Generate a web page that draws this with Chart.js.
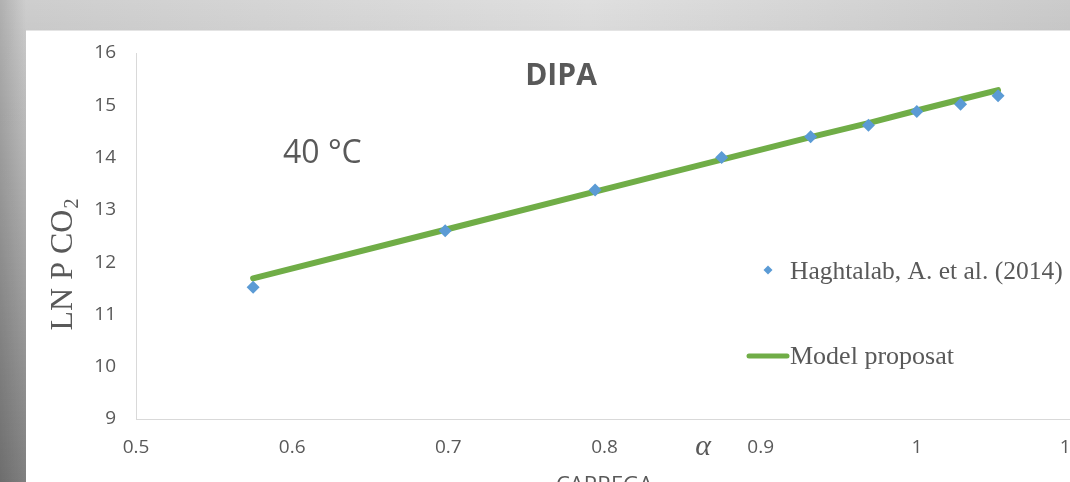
<!DOCTYPE html>
<html>
<head>
<meta charset="utf-8">
<title>DIPA 40 °C</title>
<script src="https://cdn.jsdelivr.net/npm/chart.js@4"></script>
<style>
  html, body { margin: 0; padding: 0; }
  body {
    width: 1070px; height: 482px; overflow: hidden; position: relative;
    background:
      linear-gradient(to right, rgba(0,0,0,0.14) 0px, rgba(0,0,0,0) 26px),
      linear-gradient(to bottom, rgba(0,0,0,0) 0%, rgba(0,0,0,0.38) 100%),
      linear-gradient(to right, #cdcdcd 0%, #dfdfdf 55%, #cbcbcb 100%);
  }
  #sheet {
    position: absolute; left: 26px; top: 30px; width: 1070px; height: 480px;
    background: #ffffff; border-top: 1px solid #e4e4e4; box-sizing: border-box;
  }
  #chart { position: absolute; left: 0; top: -1px; }
</style>
</head>
<body>
<div id="sheet"><canvas id="chart" width="1070" height="480"></canvas></div>
<script>
// Loading (alpha) and ln of CO2 partial pressure, DIPA at 40 °C
const loading = [0.575, 0.698, 0.794, 0.875, 0.932, 0.969, 1.000, 1.028, 1.052];
const lnPco2Measured = [11.52, 12.60, 13.38, 14.00, 14.40, 14.62, 14.88, 15.02, 15.18];
const lnPco2Model = [11.69, 12.62, 13.35, 13.96, 14.39, 14.66, 14.90, 15.11, 15.29];
const xTicks = [0.5, 0.6, 0.7, 0.8, 0.9, 1.0, 1.1];
const yTicks = [9, 10, 11, 12, 13, 14, 15, 16];
const seriesNames = ['Haghtalab, A. et al. (2014)', 'Model proposat'];

const GRAY = '#595959';
const BLUE = '#5b9bd5';
const GREEN = '#70ad47';

const toPoints = (xs, ys) => xs.map((x, i) => ({ x, y: ys[i] }));

// Title, annotations, axis titles and legend drawn onto the canvas
const decorations = {
  id: 'decorations',
  afterDraw(chart) {
    const ctx = chart.ctx;
    const area = chart.chartArea;
    ctx.save();
    ctx.fillStyle = GRAY;
    ctx.textBaseline = 'alphabetic';

    // title
    ctx.font = 'bold 30px "Open Sans"';
    ctx.textAlign = 'center';
    ctx.fillText('DIPA', 535, 55);

    // temperature note
    ctx.font = '32px "Open Sans"';
    ctx.textAlign = 'left';
    ctx.fillText('40 °C', 257, 133);

    // alpha symbol beside the x ticks
    ctx.font = 'italic 30px "Liberation Serif"';
    ctx.textAlign = 'center';
    ctx.fillText('α', 677, 425);

    // x axis title
    ctx.font = '22px "Open Sans"';
    ctx.fillText('CARREGA', (area.left + area.right) / 2, 462);

    // y axis title with subscript
    ctx.save();
    ctx.translate(46, 235);
    ctx.rotate(-Math.PI / 2);
    ctx.font = '32px "Liberation Serif"';
    const main = 'LN P CO';
    const mainW = ctx.measureText(main).width;
    ctx.font = '20px "Liberation Serif"';
    const subW = ctx.measureText('2').width;
    const start = -(mainW + subW) / 2;
    ctx.textAlign = 'left';
    ctx.font = '32px "Liberation Serif"';
    ctx.fillText(main, start, 0);
    ctx.font = '20px "Liberation Serif"';
    ctx.fillText('2', start + mainW + 1, 6);
    ctx.restore();

    // legend
    const ds = chart.data.datasets;
    ctx.font = '25.5px "Liberation Serif"';
    ctx.textAlign = 'left';
    // marker entry
    ctx.fillStyle = ds[0].backgroundColor;
    ctx.beginPath();
    ctx.moveTo(742, 235.5);
    ctx.lineTo(746.5, 240);
    ctx.lineTo(742, 244.5);
    ctx.lineTo(737.5, 240);
    ctx.closePath();
    ctx.fill();
    ctx.fillStyle = GRAY;
    ctx.fillText(ds[0].label, 764, 249);
    // line entry
    ctx.strokeStyle = ds[1].borderColor;
    ctx.lineWidth = 5;
    ctx.lineCap = 'round';
    ctx.beginPath();
    ctx.moveTo(723, 326);
    ctx.lineTo(761, 326);
    ctx.stroke();
    ctx.font = '26px "Liberation Serif"';
    ctx.fillText(ds[1].label, 764, 334);

    ctx.restore();
  }
};

new Chart(document.getElementById('chart'), {
  type: 'scatter',
  data: {
    datasets: [
      {
        label: seriesNames[0],
        data: toPoints(loading, lnPco2Measured),
        showLine: false,
        pointStyle: 'rectRot',
        pointRadius: 6.5,
        pointBorderWidth: 0,
        backgroundColor: BLUE,
        borderColor: BLUE
      },
      {
        label: seriesNames[1],
        data: toPoints(loading, lnPco2Model),
        showLine: true,
        pointRadius: 0,
        borderWidth: 6,
        borderColor: GREEN,
        backgroundColor: GREEN,
        borderCapStyle: 'round',
        borderJoinStyle: 'round',
        tension: 0
      }
    ]
  },
  options: {
    responsive: false,
    animation: false,
    devicePixelRatio: 1,
    layout: { padding: { left: 0, top: 23, right: 23, bottom: 0 } },
    plugins: {
      legend: { display: false },
      tooltip: { enabled: false },
      title: { display: false }
    },
    scales: {
      x: {
        type: 'linear',
        min: xTicks[0],
        max: xTicks[xTicks.length - 1],
        afterBuildTicks: (scale) => { scale.ticks = xTicks.map(v => ({ value: v })); },
        afterFit: (scale) => {
          scale.height = 91;
          scale.paddingLeft = 0;
          scale.paddingRight = 0;
        },
        grid: { display: false, drawTicks: false },
        border: { display: true, color: '#d9d9d9', width: 1 },
        ticks: {
          padding: 17,
          color: GRAY,
          font: { family: 'Open Sans', size: 19 },
          callback: (v) => String(Number(v.toFixed(1)))
        }
      },
      y: {
        type: 'linear',
        min: yTicks[0],
        max: yTicks[yTicks.length - 1],
        afterBuildTicks: (scale) => { scale.ticks = yTicks.map(v => ({ value: v })); },
        afterFit: (scale) => {
          scale.width = 110;
          scale.paddingTop = 0;
          scale.paddingBottom = 0;
        },
        grid: { display: false, drawTicks: false },
        border: { display: true, color: '#d9d9d9', width: 1 },
        ticks: {
          padding: 20,
          color: GRAY,
          font: { family: 'Open Sans', size: 19 },
          callback: (v) => String(v)
        }
      }
    }
  },
  plugins: [decorations]
});
</script>
</body>
</html>
